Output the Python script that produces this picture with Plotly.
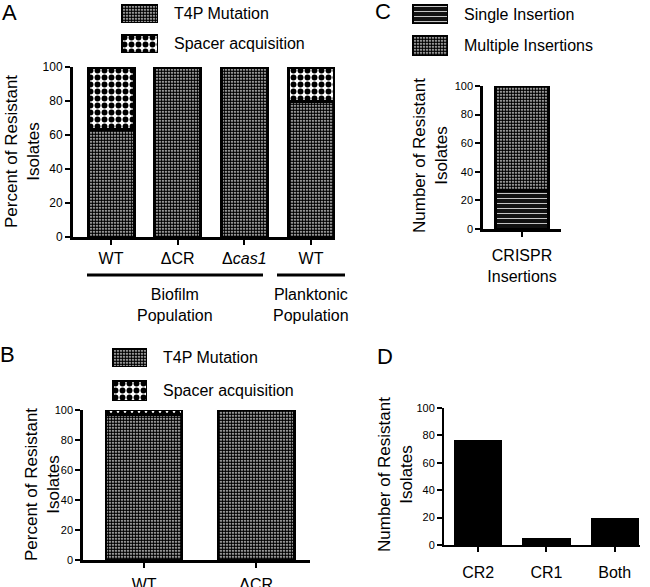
import plotly.graph_objects as go

W, H = 650, 587
FONT = "Liberation Sans, Arial, sans-serif"

# panel A
a_groups = ["WT", "ΔCR", "Δ<i>cas1</i>", "WT"]
a_t4p = [63, 100, 100, 80]
a_spacer = [37, 0, 0, 20]
# panel B
b_groups = ["WT", "ΔCR"]
b_t4p = [97, 100]
b_spacer = [3, 0]
# panel C
c_groups = ["CRISPR<br>Insertions"]
c_single = [27]
c_multiple = [73]
# panel D
d_groups = ["CR2", "CR1", "Both"]
d_counts = [76, 5, 19]

y_ticks = [0, 20, 40, 60, 80, 100]


def px(x):
    return x / W


def py(y):
    return 1 - y / H


# fill styles
T4P = dict(shape=".", fgcolor="black", bgcolor="white", size=3, solidity=0.75)
SPACER = dict(shape=".", fgcolor="black", bgcolor="white", size=7, solidity=0.55)
SINGLE = dict(shape="-", fgcolor="white", bgcolor="#111111", size=5, solidity=0.15)
MULTI = dict(shape=".", fgcolor="black", bgcolor="white", size=3, solidity=0.75)

fig = go.Figure()


def bars(n, x, y, pattern, width, lw):
    fig.add_trace(go.Bar(
        x=x, y=y, width=width, xaxis="x" + str(n), yaxis="y" + str(n),
        marker=dict(color=pattern["bgcolor"], pattern=pattern, line=dict(color="black", width=lw)),
        cliponaxis=False, showlegend=False, hoverinfo="skip",
    ))


# A
xa = list(range(len(a_groups)))
bars(1, xa, a_t4p, T4P, 0.69, 3)
bars(1, xa, a_spacer, SPACER, 0.69, 3)
# B
xb = list(range(len(b_groups)))
bars(2, xb, b_t4p, T4P, 0.68, 2.5)
bars(2, xb, b_spacer, SPACER, 0.68, 2.5)
# C
xc = list(range(len(c_groups)))
bars(3, xc, c_single, SINGLE, 0.7, 2.5)
bars(3, xc, c_multiple, MULTI, 0.7, 2.5)
# D
xd = list(range(len(d_groups)))
fig.add_trace(go.Bar(
    x=xd, y=d_counts, width=0.69, xaxis="x4", yaxis="y4",
    marker=dict(color="black", line=dict(color="black", width=1)),
    cliponaxis=False, showlegend=False, hoverinfo="skip",
))

# legend swatches, each in its own small hidden axes
swatches = [
    # (pattern, x0, x1, y0, y1, label)
    (T4P, 121, 158, 4, 23, "T4P Mutation"),
    (SPACER, 121, 158, 34, 53, "Spacer acquisition"),
    (T4P, 112, 147, 348, 367, "T4P Mutation"),
    (SPACER, 112, 147, 380, 401, "Spacer acquisition"),
    (SINGLE, 412, 448, 4, 24, "Single Insertion"),
    (MULTI, 412, 448, 35, 56, "Multiple Insertions"),
]

layout = dict(
    width=W, height=H, margin=dict(l=0, r=0, t=0, b=0, autoexpand=False),
    template="none",
    plot_bgcolor="white", paper_bgcolor="white", barmode="stack",
    font=dict(family=FONT, color="black"),
)

annotations = []
for i, (pat, x0, x1, y0, y1, label) in enumerate(swatches):
    n = 5 + i
    bars(n, [0], [1], pat, 1, 3)
    layout["xaxis" + str(n)] = dict(domain=[px(x0), px(x1)], range=[-0.5, 0.5], visible=False,
                                    anchor="y" + str(n), automargin=False)
    layout["yaxis" + str(n)] = dict(domain=[py(y1), py(y0)], range=[0, 1], visible=False,
                                    anchor="x" + str(n), automargin=False)
    annotations.append(dict(text=label, x=px(x1 + 14), y=py((y0 + y1) / 2), xref="paper", yref="paper",
                            xanchor="left", yanchor="middle", showarrow=False, font=dict(size=16)))


def axes(n, xdom, ydom, xrange, ticktext, lw, tickfont, labfont, standoff):
    layout["xaxis" + str(n)] = dict(
        domain=[px(xdom[0]), px(xdom[1])], range=xrange, anchor="y" + str(n),
        tickvals=list(range(len(ticktext))), ticktext=ticktext, automargin=False,
        showline=True, linecolor="black", linewidth=lw, ticks="outside", ticklen=5,
        tickwidth=2, tickcolor="black", showgrid=False, zeroline=False,
        tickfont=dict(size=labfont), ticklabelstandoff=standoff,
    )
    layout["yaxis" + str(n)] = dict(
        domain=[py(ydom[1]), py(ydom[0])], range=[0, 100], anchor="x" + str(n),
        tickvals=y_ticks, showline=True, linecolor="black", linewidth=lw, automargin=False,
        ticks="outside", ticklen=5, tickwidth=2, tickcolor="black",
        showgrid=False, zeroline=False, tickfont=dict(size=tickfont),
    )


axes(1, (73, 335), (67, 237), [-0.57, 3.36], a_groups, 3, 12, 16, 0)
axes(2, (83, 310), (410, 560), [-0.545, 1.48], b_groups, 2.5, 11, 16, 3)
axes(3, (483, 561), (86, 229), [-0.515, 0.515], c_groups, 2.5, 11, 16, 5)
axes(4, (444, 640), (408, 545), [-0.5, 2.37], d_groups, 2, 11, 16, 7)

# y-axis titles
for text, x, y in [
    ("Percent of Resistant<br>Isolates", 22, 152),
    ("Percent of Resistant<br>Isolates", 42, 485),
    ("Number of Resistant<br>Isolates", 430, 156),
    ("Number of Resistant<br>Isolates", 395, 474),
]:
    annotations.append(dict(text=text, x=px(x), y=py(y), xref="paper", yref="paper", textangle=-90,
                            showarrow=False, font=dict(size=17), xanchor="center", yanchor="middle"))

# panel letters
for text, x, y in [("A", 9, 12), ("B", 7, 354), ("C", 383, 11), ("D", 385, 356)]:
    annotations.append(dict(text=text, x=px(x), y=py(y), xref="paper", yref="paper",
                            xanchor="center", yanchor="middle",
                            showarrow=False, font=dict(size=22)))

# group labels under panel A
for text, x0, x1 in [("Biofilm<br>Population", 87, 263), ("Planktonic<br>Population", 277, 345)]:
    annotations.append(dict(text=text, x=px((x0 + x1) / 2), y=py(305), xref="paper", yref="paper",
                            xanchor="center", yanchor="middle",
                            showarrow=False, font=dict(size=16)))
shapes = [
    dict(type="line", xref="paper", yref="paper", x0=px(87), x1=px(263), y0=py(275), y1=py(275),
         line=dict(color="black", width=3)),
    dict(type="line", xref="paper", yref="paper", x0=px(277), x1=px(345), y0=py(275), y1=py(275),
         line=dict(color="black", width=3)),
]

layout["annotations"] = annotations
layout["shapes"] = shapes
fig.update_layout(**layout)

# the page's default body margin would push the figure off the 650x587 window
fig.write_html("out.html", config={"displayModeBar": False},
               post_script="document.body.style.margin = '0';")
